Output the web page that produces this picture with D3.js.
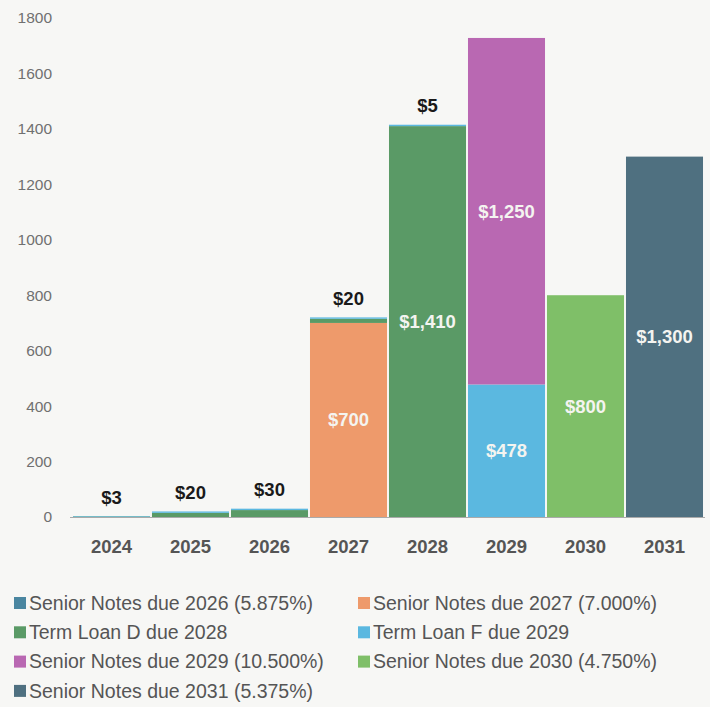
<!DOCTYPE html>
<html><head><meta charset="utf-8">
<script src="https://cdn.jsdelivr.net/npm/d3@7"></script>
<style>body{margin:0;background:#f7f7f5;}svg{display:block;}</style>
</head><body>
<script>
const years = ["2024","2025","2026","2027","2028","2029","2030","2031"];
const seriesNames = ["Senior Notes due 2026 (5.875%)","Senior Notes due 2027 (7.000%)","Term Loan D due 2028","Term Loan F due 2029","Senior Notes due 2029 (10.500%)","Senior Notes due 2030 (4.750%)","Senior Notes due 2031 (5.375%)"];
const seriesColors = ["#4a86a0","#ee9a6b","#5a9a66","#5bb8e0","#b968b2","#7fbf68","#4f7080"];
const sn2026 = [0,0,0,0,0,0,0,0];
const sn2027 = [0,0,0,700,0,0,0,0];
const tlD    = [2,15,25,15,1410,0,0,0];
const tlF    = [1,5,5,5,5,478,0,0];
const sn2029 = [0,0,0,0,0,1250,0,0];
const sn2030 = [0,0,0,0,0,0,800,0];
const sn2031 = [0,0,0,0,0,0,0,1300];
const topLabels = ["$3","$20","$30","$20","$5","","",""];
const yTicks = [0,200,400,600,800,1000,1200,1400,1600,1800];
const insideLabels = {"Senior Notes due 2027 (7.000%)":"$700","Term Loan D due 2028":"$1,410","Term Loan F due 2029":"$478","Senior Notes due 2029 (10.500%)":"$1,250","Senior Notes due 2030 (4.750%)":"$800","Senior Notes due 2031 (5.375%)":"$1,300"};

const valuesBy = {
 "Senior Notes due 2026 (5.875%)":sn2026,"Senior Notes due 2027 (7.000%)":sn2027,"Term Loan D due 2028":tlD,
 "Term Loan F due 2029":tlF,"Senior Notes due 2029 (10.500%)":sn2029,"Senior Notes due 2030 (4.750%)":sn2030,"Senior Notes due 2031 (5.375%)":sn2031};
const colorOf = {}; seriesNames.forEach((n,i)=>colorOf[n]=seriesColors[i]);
const FONT="Liberation Sans, Arial, sans-serif";

const W=710,H=707;
const svg=d3.select("body").append("svg").attr("width",W).attr("height",H);
svg.append("rect").attr("width",W).attr("height",H).attr("fill","#f7f7f5");
const x=d3.scaleBand().domain(years).range([72,704]).paddingInner(0.025).paddingOuter(0.0125);
const y=d3.scaleLinear().domain([0,1800]).range([517,18]);

svg.append("g").selectAll("text").data(yTicks).join("text")
 .attr("x",52).attr("y",d=>y(d)).attr("dy","0.35em").attr("text-anchor","end")
 .attr("font-family",FONT).attr("font-size",15.5).attr("fill","#707070").text(d=>d);

const table = years.map((yr,i)=>{const o={year:yr}; seriesNames.forEach(n=>o[n]=valuesBy[n][i]); return o;});
const stack=d3.stack().keys(["Senior Notes due 2027 (7.000%)","Term Loan D due 2028","Term Loan F due 2029","Senior Notes due 2029 (10.500%)","Senior Notes due 2030 (4.750%)","Senior Notes due 2031 (5.375%)","Senior Notes due 2026 (5.875%)"]);
const stacked=stack(table);
const g=svg.append("g");
stacked.forEach(s=>{
  g.selectAll(null).data(s.filter(d=>d[1]-d[0]>0)).join("rect")
   .attr("x",d=>x(d.data.year)).attr("width",x.bandwidth())
   .attr("y",d=>y(d[1])).attr("height",d=>Math.max(0.6,y(d[0])-y(d[1])))
   .attr("fill",colorOf[s.key]);
  if(insideLabels[s.key]){
    const big=s.filter(d=>d[1]-d[0]>100);
    g.selectAll(null).data(big).join("text")
     .attr("x",d=>x(d.data.year)+x.bandwidth()/2).attr("y",d=>y((d[0]+d[1])/2)).attr("dy","0.35em")
     .attr("text-anchor","middle").attr("fill","#f4f4f0").attr("font-weight","bold")
     .attr("font-family",FONT).attr("font-size",18.5).text(insideLabels[s.key]);
  }
});
svg.append("line").attr("x1",70).attr("x2",705).attr("y1",y(0)+0.5).attr("y2",y(0)+0.5).attr("stroke","#aaa").attr("stroke-width",1);

const totals=years.map((yr,i)=>seriesNames.reduce((a,n)=>a+valuesBy[n][i],0));
svg.append("g").selectAll("text").data(years).join("text")
 .attr("x",d=>x(d)+x.bandwidth()/2).attr("y",(d,i)=>y(totals[i])-19).attr("dy","0.35em")
 .attr("text-anchor","middle").attr("font-weight","bold").attr("fill","#1a1a1a")
 .attr("font-family",FONT).attr("font-size",18.5).text((d,i)=>topLabels[i]);

svg.append("g").selectAll("text").data(years).join("text")
 .attr("x",d=>x(d)+x.bandwidth()/2).attr("y",547).attr("dy","0.35em").attr("text-anchor","middle")
 .attr("font-weight","bold").attr("fill","#555").attr("font-family",FONT).attr("font-size",18.5).text(d=>d);

const leg=svg.append("g");
seriesNames.forEach((n,i)=>{
  const col=i%2,row=Math.floor(i/2);
  const lx=col===0?14:358, ly=603+row*29.3;
  leg.append("rect").attr("x",lx).attr("y",ly-6).attr("width",12).attr("height",12).attr("fill",colorOf[n]);
  leg.append("text").attr("x",lx+15).attr("y",ly).attr("dy","0.35em").attr("fill","#555")
   .attr("font-family",FONT).attr("font-size",19.5).text(n);
});
</script>
</body></html>
